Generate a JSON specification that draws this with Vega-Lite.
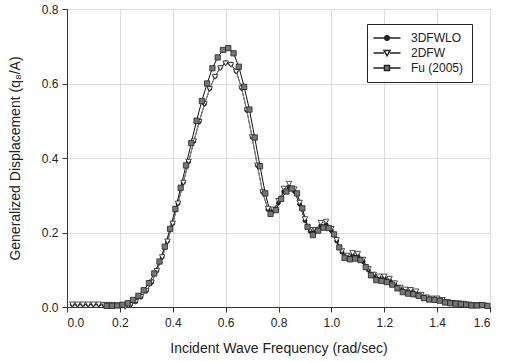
{
  "$schema": "https://vega.github.io/schema/vega-lite/v6.json",
  "width": 423,
  "height": 298,
  "autosize": "none",
  "padding": {"left": 67, "top": 9, "right": 17, "bottom": 55},
  "background": "white",
  "config": {
    "view": {"stroke": "#333", "strokeWidth": 1},
    "font": "Liberation Sans",
    "axis": {
      "domainColor": "#333", "tickColor": "#333", "gridColor": "#dcdcdc", "gridWidth": 1,
      "labelColor": "#222", "titleColor": "#222", "labelFont": "Liberation Sans", "titleFont": "Liberation Sans",
      "titleFontWeight": "normal", "labelFontSize": 12, "titleFontSize": 14, "tickSize": 5
    },
    "legend": {"labelFont": "Liberation Sans"}
  },
  "data": {"values": [
    {"s":"3DFWLO","f":0.02,"d":0.007},{"s":"3DFWLO","f":0.04,"d":0.007},{"s":"3DFWLO","f":0.06,"d":0.007},{"s":"3DFWLO","f":0.08,"d":0.007},{"s":"3DFWLO","f":0.10,"d":0.007},{"s":"3DFWLO","f":0.12,"d":0.007},{"s":"3DFWLO","f":0.14,"d":0.006},{"s":"3DFWLO","f":0.16,"d":0.006},{"s":"3DFWLO","f":0.18,"d":0.005},{"s":"3DFWLO","f":0.20,"d":0.004},
    {"s":"3DFWLO","f":0.22,"d":0.003},{"s":"3DFWLO","f":0.24,"d":0.006},{"s":"3DFWLO","f":0.26,"d":0.014},{"s":"3DFWLO","f":0.28,"d":0.027},{"s":"3DFWLO","f":0.30,"d":0.043},{"s":"3DFWLO","f":0.32,"d":0.066},{"s":"3DFWLO","f":0.34,"d":0.097},{"s":"3DFWLO","f":0.36,"d":0.134},{"s":"3DFWLO","f":0.38,"d":0.176},{"s":"3DFWLO","f":0.40,"d":0.224},
    {"s":"3DFWLO","f":0.42,"d":0.278},{"s":"3DFWLO","f":0.44,"d":0.334},{"s":"3DFWLO","f":0.46,"d":0.39},{"s":"3DFWLO","f":0.48,"d":0.445},{"s":"3DFWLO","f":0.50,"d":0.497},{"s":"3DFWLO","f":0.52,"d":0.545},{"s":"3DFWLO","f":0.54,"d":0.586},{"s":"3DFWLO","f":0.56,"d":0.619},{"s":"3DFWLO","f":0.58,"d":0.643},{"s":"3DFWLO","f":0.60,"d":0.656},
    {"s":"3DFWLO","f":0.62,"d":0.652},{"s":"3DFWLO","f":0.64,"d":0.633},{"s":"3DFWLO","f":0.66,"d":0.588},{"s":"3DFWLO","f":0.68,"d":0.528},{"s":"3DFWLO","f":0.70,"d":0.456},{"s":"3DFWLO","f":0.72,"d":0.38},{"s":"3DFWLO","f":0.74,"d":0.308},{"s":"3DFWLO","f":0.76,"d":0.262},{"s":"3DFWLO","f":0.78,"d":0.258},{"s":"3DFWLO","f":0.80,"d":0.28},
    {"s":"3DFWLO","f":0.82,"d":0.31},{"s":"3DFWLO","f":0.84,"d":0.322},{"s":"3DFWLO","f":0.86,"d":0.31},{"s":"3DFWLO","f":0.88,"d":0.276},{"s":"3DFWLO","f":0.90,"d":0.232},{"s":"3DFWLO","f":0.92,"d":0.203},{"s":"3DFWLO","f":0.94,"d":0.203},{"s":"3DFWLO","f":0.96,"d":0.218},{"s":"3DFWLO","f":0.98,"d":0.221},{"s":"3DFWLO","f":1.00,"d":0.205},
    {"s":"3DFWLO","f":1.02,"d":0.177},{"s":"3DFWLO","f":1.04,"d":0.147},{"s":"3DFWLO","f":1.06,"d":0.134},{"s":"3DFWLO","f":1.08,"d":0.138},{"s":"3DFWLO","f":1.10,"d":0.137},{"s":"3DFWLO","f":1.12,"d":0.122},{"s":"3DFWLO","f":1.14,"d":0.099},{"s":"3DFWLO","f":1.16,"d":0.084},{"s":"3DFWLO","f":1.18,"d":0.078},{"s":"3DFWLO","f":1.20,"d":0.077},
    {"s":"3DFWLO","f":1.22,"d":0.072},{"s":"3DFWLO","f":1.24,"d":0.061},{"s":"3DFWLO","f":1.26,"d":0.05},{"s":"3DFWLO","f":1.28,"d":0.044},{"s":"3DFWLO","f":1.30,"d":0.042},{"s":"3DFWLO","f":1.32,"d":0.039},{"s":"3DFWLO","f":1.34,"d":0.031},{"s":"3DFWLO","f":1.36,"d":0.025},{"s":"3DFWLO","f":1.38,"d":0.022},{"s":"3DFWLO","f":1.40,"d":0.021},
    {"s":"3DFWLO","f":1.42,"d":0.018},{"s":"3DFWLO","f":1.44,"d":0.013},{"s":"3DFWLO","f":1.46,"d":0.011},{"s":"3DFWLO","f":1.48,"d":0.01},{"s":"3DFWLO","f":1.50,"d":0.008},{"s":"3DFWLO","f":1.52,"d":0.006},{"s":"3DFWLO","f":1.54,"d":0.005},{"s":"3DFWLO","f":1.56,"d":0.005},{"s":"3DFWLO","f":1.58,"d":0.004},

    {"s":"2DFW","f":0.02,"d":0.007},{"s":"2DFW","f":0.04,"d":0.007},{"s":"2DFW","f":0.06,"d":0.007},{"s":"2DFW","f":0.08,"d":0.007},{"s":"2DFW","f":0.10,"d":0.007},{"s":"2DFW","f":0.12,"d":0.007},{"s":"2DFW","f":0.14,"d":0.006},{"s":"2DFW","f":0.16,"d":0.006},{"s":"2DFW","f":0.18,"d":0.005},{"s":"2DFW","f":0.20,"d":0.004},
    {"s":"2DFW","f":0.22,"d":0.0},{"s":"2DFW","f":0.24,"d":0.005},{"s":"2DFW","f":0.26,"d":0.014},{"s":"2DFW","f":0.28,"d":0.027},{"s":"2DFW","f":0.30,"d":0.043},{"s":"2DFW","f":0.32,"d":0.066},{"s":"2DFW","f":0.34,"d":0.097},{"s":"2DFW","f":0.36,"d":0.134},{"s":"2DFW","f":0.38,"d":0.176},{"s":"2DFW","f":0.40,"d":0.224},
    {"s":"2DFW","f":0.42,"d":0.278},{"s":"2DFW","f":0.44,"d":0.334},{"s":"2DFW","f":0.46,"d":0.39},{"s":"2DFW","f":0.48,"d":0.445},{"s":"2DFW","f":0.50,"d":0.497},{"s":"2DFW","f":0.52,"d":0.545},{"s":"2DFW","f":0.54,"d":0.585},{"s":"2DFW","f":0.56,"d":0.618},{"s":"2DFW","f":0.58,"d":0.641},{"s":"2DFW","f":0.60,"d":0.654},
    {"s":"2DFW","f":0.62,"d":0.65},{"s":"2DFW","f":0.64,"d":0.632},{"s":"2DFW","f":0.66,"d":0.587},{"s":"2DFW","f":0.68,"d":0.528},{"s":"2DFW","f":0.70,"d":0.456},{"s":"2DFW","f":0.72,"d":0.38},{"s":"2DFW","f":0.74,"d":0.308},{"s":"2DFW","f":0.76,"d":0.264},{"s":"2DFW","f":0.78,"d":0.262},{"s":"2DFW","f":0.80,"d":0.285},
    {"s":"2DFW","f":0.82,"d":0.318},{"s":"2DFW","f":0.84,"d":0.331},{"s":"2DFW","f":0.86,"d":0.316},{"s":"2DFW","f":0.88,"d":0.28},{"s":"2DFW","f":0.90,"d":0.236},{"s":"2DFW","f":0.92,"d":0.207},{"s":"2DFW","f":0.94,"d":0.207},{"s":"2DFW","f":0.96,"d":0.226},{"s":"2DFW","f":0.98,"d":0.229},{"s":"2DFW","f":1.00,"d":0.21},
    {"s":"2DFW","f":1.02,"d":0.18},{"s":"2DFW","f":1.04,"d":0.15},{"s":"2DFW","f":1.06,"d":0.138},{"s":"2DFW","f":1.08,"d":0.145},{"s":"2DFW","f":1.10,"d":0.143},{"s":"2DFW","f":1.12,"d":0.127},{"s":"2DFW","f":1.14,"d":0.102},{"s":"2DFW","f":1.16,"d":0.087},{"s":"2DFW","f":1.18,"d":0.082},{"s":"2DFW","f":1.20,"d":0.082},
    {"s":"2DFW","f":1.22,"d":0.076},{"s":"2DFW","f":1.24,"d":0.064},{"s":"2DFW","f":1.26,"d":0.052},{"s":"2DFW","f":1.28,"d":0.047},{"s":"2DFW","f":1.30,"d":0.046},{"s":"2DFW","f":1.32,"d":0.042},{"s":"2DFW","f":1.34,"d":0.033},{"s":"2DFW","f":1.36,"d":0.026},{"s":"2DFW","f":1.38,"d":0.023},{"s":"2DFW","f":1.40,"d":0.023},
    {"s":"2DFW","f":1.42,"d":0.019},{"s":"2DFW","f":1.44,"d":0.014},{"s":"2DFW","f":1.46,"d":0.011},{"s":"2DFW","f":1.48,"d":0.01},{"s":"2DFW","f":1.50,"d":0.009},{"s":"2DFW","f":1.52,"d":0.007},{"s":"2DFW","f":1.54,"d":0.005},{"s":"2DFW","f":1.56,"d":0.005},{"s":"2DFW","f":1.58,"d":0.004},

    {"s":"Fu (2005)","f":0.15,"d":0.003},{"s":"Fu (2005)","f":0.17,"d":0.003},{"s":"Fu (2005)","f":0.19,"d":0.004},{"s":"Fu (2005)","f":0.21,"d":0.006},{"s":"Fu (2005)","f":0.23,"d":0.01},{"s":"Fu (2005)","f":0.25,"d":0.019},{"s":"Fu (2005)","f":0.27,"d":0.03},{"s":"Fu (2005)","f":0.29,"d":0.045},{"s":"Fu (2005)","f":0.31,"d":0.064},{"s":"Fu (2005)","f":0.33,"d":0.09},
    {"s":"Fu (2005)","f":0.35,"d":0.122},{"s":"Fu (2005)","f":0.37,"d":0.162},{"s":"Fu (2005)","f":0.39,"d":0.21},{"s":"Fu (2005)","f":0.41,"d":0.263},{"s":"Fu (2005)","f":0.43,"d":0.32},{"s":"Fu (2005)","f":0.45,"d":0.38},{"s":"Fu (2005)","f":0.47,"d":0.44},{"s":"Fu (2005)","f":0.49,"d":0.5},{"s":"Fu (2005)","f":0.51,"d":0.553},{"s":"Fu (2005)","f":0.53,"d":0.6},
    {"s":"Fu (2005)","f":0.55,"d":0.641},{"s":"Fu (2005)","f":0.57,"d":0.67},{"s":"Fu (2005)","f":0.59,"d":0.69},{"s":"Fu (2005)","f":0.61,"d":0.695},{"s":"Fu (2005)","f":0.63,"d":0.681},{"s":"Fu (2005)","f":0.65,"d":0.645},{"s":"Fu (2005)","f":0.67,"d":0.591},{"s":"Fu (2005)","f":0.69,"d":0.53},{"s":"Fu (2005)","f":0.71,"d":0.455},{"s":"Fu (2005)","f":0.73,"d":0.378},
    {"s":"Fu (2005)","f":0.75,"d":0.305},{"s":"Fu (2005)","f":0.77,"d":0.25},{"s":"Fu (2005)","f":0.79,"d":0.26},{"s":"Fu (2005)","f":0.81,"d":0.29},{"s":"Fu (2005)","f":0.83,"d":0.31},{"s":"Fu (2005)","f":0.85,"d":0.318},{"s":"Fu (2005)","f":0.87,"d":0.305},{"s":"Fu (2005)","f":0.89,"d":0.265},{"s":"Fu (2005)","f":0.91,"d":0.215},{"s":"Fu (2005)","f":0.93,"d":0.193},
    {"s":"Fu (2005)","f":0.95,"d":0.205},{"s":"Fu (2005)","f":0.97,"d":0.213},{"s":"Fu (2005)","f":0.99,"d":0.212},{"s":"Fu (2005)","f":1.01,"d":0.195},{"s":"Fu (2005)","f":1.03,"d":0.16},{"s":"Fu (2005)","f":1.05,"d":0.132},{"s":"Fu (2005)","f":1.07,"d":0.128},{"s":"Fu (2005)","f":1.09,"d":0.13},{"s":"Fu (2005)","f":1.11,"d":0.126},{"s":"Fu (2005)","f":1.13,"d":0.107},
    {"s":"Fu (2005)","f":1.15,"d":0.085},{"s":"Fu (2005)","f":1.17,"d":0.072},{"s":"Fu (2005)","f":1.19,"d":0.07},{"s":"Fu (2005)","f":1.21,"d":0.067},{"s":"Fu (2005)","f":1.23,"d":0.06},{"s":"Fu (2005)","f":1.25,"d":0.05},{"s":"Fu (2005)","f":1.27,"d":0.04},{"s":"Fu (2005)","f":1.29,"d":0.036},{"s":"Fu (2005)","f":1.31,"d":0.034},{"s":"Fu (2005)","f":1.33,"d":0.03},
    {"s":"Fu (2005)","f":1.35,"d":0.024},{"s":"Fu (2005)","f":1.37,"d":0.02},{"s":"Fu (2005)","f":1.39,"d":0.019},{"s":"Fu (2005)","f":1.41,"d":0.017},{"s":"Fu (2005)","f":1.43,"d":0.012},{"s":"Fu (2005)","f":1.45,"d":0.01},{"s":"Fu (2005)","f":1.47,"d":0.009},{"s":"Fu (2005)","f":1.49,"d":0.008},{"s":"Fu (2005)","f":1.51,"d":0.006},{"s":"Fu (2005)","f":1.53,"d":0.004},
    {"s":"Fu (2005)","f":1.55,"d":0.004},{"s":"Fu (2005)","f":1.57,"d":0.005},{"s":"Fu (2005)","f":1.59,"d":0.003}
  ]},
  "encoding": {
    "x": {"field": "f", "type": "quantitative", "scale": {"domain": [0, 1.6], "nice": false},
      "axis": {"values": [0, 0.2, 0.4, 0.6, 0.8, 1.0, 1.2, 1.4, 1.6], "format": ".1f", "title": "Incident Wave Frequency (rad/sec)", "labelPadding": 5, "titlePadding": 13}},
    "y": {"field": "d", "type": "quantitative", "scale": {"domain": [0, 0.8], "nice": false},
      "axis": {"values": [0, 0.2, 0.4, 0.6, 0.8], "format": ".1f", "title": "Generalized Displacement (q₈/A)", "labelPadding": 4, "titlePadding": 19}}
  },
  "layer": [
    {
      "mark": {"type": "line", "strokeWidth": 1},
      "encoding": {
        "stroke": {"field": "s", "type": "nominal", "scale": {"range": ["#8a8a8a", "#111111", "#111111"]}, "legend": null}
      }
    },
    {
      "transform": [{"filter": "datum.s === '3DFWLO'"}],
      "mark": {"type": "point", "shape": "circle", "filled": true, "fill": "#222222", "stroke": "#111111", "strokeWidth": 0.8, "size": 16, "opacity": 1}
    },
    {
      "transform": [{"filter": "datum.s === '2DFW'"}],
      "mark": {"type": "point", "shape": "triangle-down", "filled": true, "fill": "#ffffff", "stroke": "#222222", "strokeWidth": 0.8, "size": 30, "opacity": 1}
    },
    {
      "transform": [{"filter": "datum.s === 'Fu (2005)'"}],
      "mark": {"type": "point", "shape": "square", "filled": true, "fill": "#777777", "stroke": "#222222", "strokeWidth": 0.8, "size": 28, "opacity": 1}
    },
    {
      "transform": [{"filter": "false"}],
      "mark": {"type": "point", "filled": true, "stroke": "#222222", "strokeWidth": 0.8, "opacity": 1},
      "encoding": {
        "shape": {"field": "s", "type": "nominal",
          "scale": {"domain": ["3DFWLO", "2DFW", "Fu (2005)"], "range": [
            "M-2.7,0H2.7M-0.45,0A0.45,0.45,0,1,0,0.45,0A0.45,0.45,0,1,0,-0.45,0Z",
            "M-2.7,0H-0.6M0.6,0H2.7M-0.6,-0.5H0.6L0,0.55Z",
            "M-2.7,0H-0.5M0.5,0H2.7M-0.5,-0.5H0.5V0.5H-0.5Z"]},
          "legend": {
            "title": null, "orient": "none", "legendX": 300, "legendY": 15,
            "strokeColor": "#222222", "fillColor": "white", "padding": 8,
            "symbolSize": 100, "symbolOffset": 6, "labelFontSize": 12, "labelColor": "#222", "labelOffset": 18, "rowPadding": 3
          }},
        "fill": {"field": "s", "type": "nominal",
          "scale": {"domain": ["3DFWLO", "2DFW", "Fu (2005)"], "range": ["#222222", "#ffffff", "#777777"]},
          "legend": {
            "title": null, "orient": "none", "legendX": 300, "legendY": 15,
            "strokeColor": "#222222", "fillColor": "white", "padding": 8,
            "symbolSize": 100, "symbolOffset": 6, "labelFontSize": 12, "labelColor": "#222", "labelOffset": 18, "rowPadding": 3
          }}
      }
    }
  ]
}
